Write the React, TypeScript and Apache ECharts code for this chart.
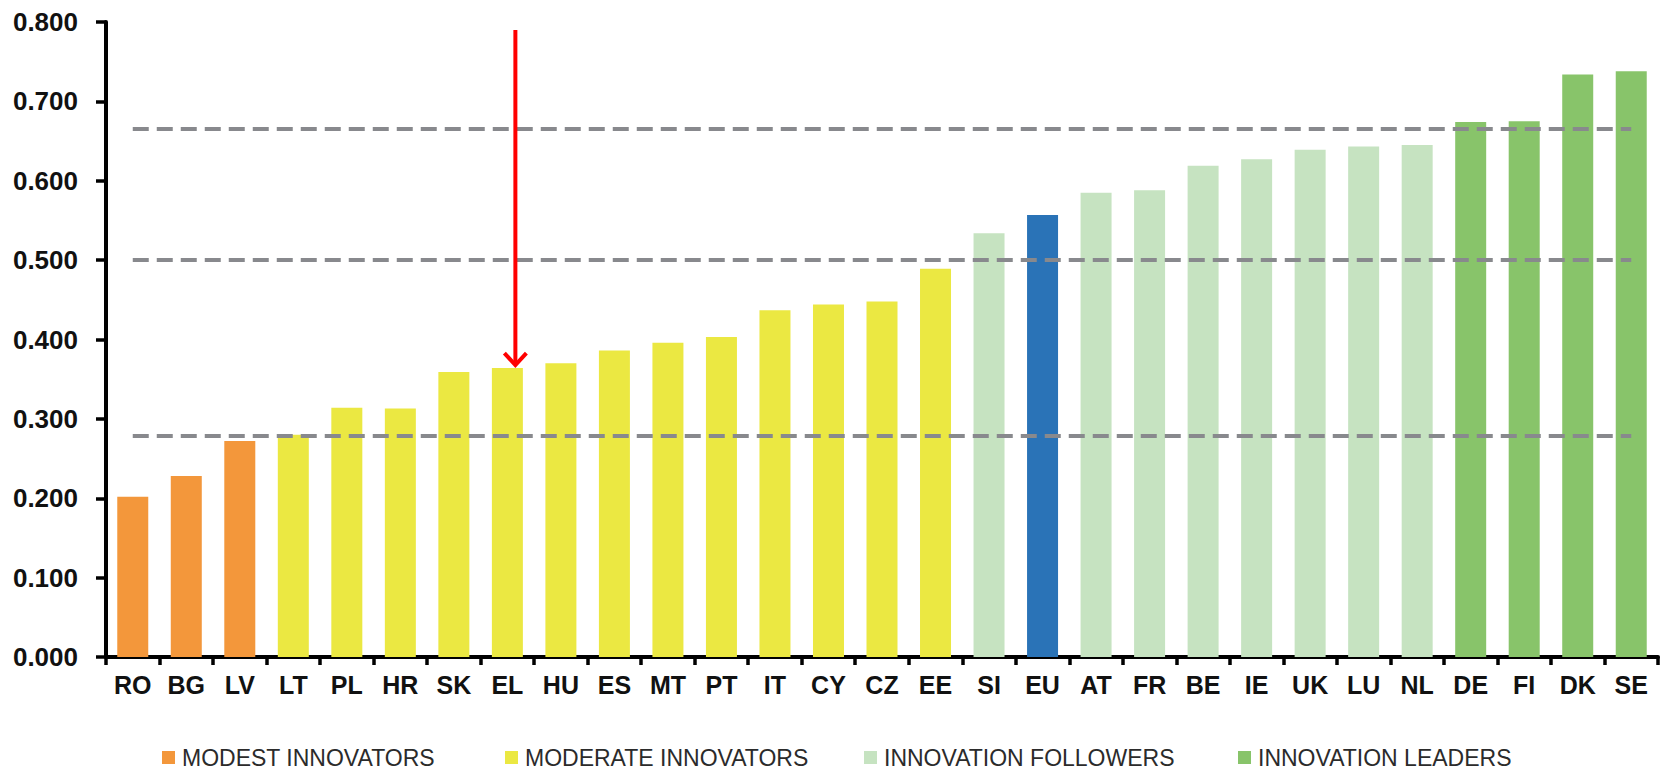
import React, { useEffect, useRef } from "react";
import * as echarts from "echarts";

const categories = ["RO","BG","LV","LT","PL","HR","SK","EL","HU","ES","MT","PT","IT","CY","CZ","EE","SI","EU","AT","FR","BE","IE","UK","LU","NL","DE","FI","DK","SE"];
const values = [0.202,0.228,0.272,0.280,0.314,0.313,0.359,0.364,0.370,0.386,0.396,0.403,0.437,0.444,0.448,0.489,0.534,0.557,0.585,0.588,0.619,0.627,0.639,0.643,0.645,0.674,0.675,0.734,0.738];
const groups = ["modest","modest","modest","moderate","moderate","moderate","moderate","moderate","moderate","moderate","moderate","moderate","moderate","moderate","moderate","moderate","followers","eu","followers","followers","followers","followers","followers","followers","followers","leaders","leaders","leaders","leaders"];
const groupKeys = ["modest","moderate","followers","eu","leaders"];
const groupNames = ["MODEST INNOVATORS","MODERATE INNOVATORS","INNOVATION FOLLOWERS","EU","INNOVATION LEADERS"];
const groupColors = ["#F3973B","#EBE842","#C6E3C1","#2A73B7","#88C46A"];
const legendNames = ["MODEST INNOVATORS","MODERATE INNOVATORS","INNOVATION FOLLOWERS","INNOVATION LEADERS"];
const thresholds = [0.666, 0.5, 0.279];
const arrowCategory = "EL";
const arrowTop = 0.79;

export default function App() {
  const ref = useRef<HTMLDivElement>(null);
  useEffect(() => {
    if (!ref.current) return;
    const chart = echarts.init(ref.current, null, { renderer: "svg" });
    const font = "'Liberation Sans', Arial, Helvetica, sans-serif";
    const barSeries: any[] = groupKeys.map((k, gi) => ({
      type: "bar",
      name: groupNames[gi],
      stack: "all",
      barWidth: 31,
      itemStyle: { color: groupColors[gi] },
      emphasis: { disabled: true },
      data: values.map((v, i) => (groups[i] === k ? v : "-")),
    }));
    barSeries[0].markLine = {
      silent: true,
      symbol: "none",
      label: { show: false },
      lineStyle: { color: "#88898D", width: 4, type: [16, 8] },
      emphasis: { disabled: true },
      data: thresholds.map((t) => [
        { coord: [categories[0], t] },
        { coord: [categories[categories.length - 1], t] },
      ]),
    };
    const arrowIdx = categories.indexOf(arrowCategory);
    const arrowSeries = {
      type: "custom",
      silent: true,
      z: 10,
      data: [[arrowIdx, arrowTop, values[arrowIdx]]],
      encode: { x: 0, y: [1, 2] },
      renderItem: (params: any, api: any) => {
        const p1 = api.coord([api.value(0), api.value(1)]);
        const p2 = api.coord([api.value(0), api.value(2)]);
        const dx = 8;
        const x = p1[0] + dx;
        const tipY = p2[1] - 1;
        return {
          type: "group",
          children: [
            { type: "line", shape: { x1: x, y1: p1[1], x2: x, y2: tipY - 2 }, style: { stroke: "#FF0000", lineWidth: 4 } },
            { type: "polyline", shape: { points: [[x - 11, tipY - 14], [x, tipY - 2], [x + 11, tipY - 14]] }, style: { stroke: "#FF0000", lineWidth: 4, fill: null, lineJoin: "miter" } },
          ],
        };
      },
    };
    const legendLefts = [157, 500, 859, 1233];
    const option: any = {
      animation: false,
      grid: { left: 106, right: 9, top: 22, bottom: 113, containLabel: false },
      legend: legendNames.map((n, i) => ({
        data: [n],
        left: legendLefts[i],
        top: 741,
        icon: "rect",
        itemWidth: 13,
        itemHeight: 13,
        selectedMode: false,
        textStyle: { fontFamily: font, fontSize: 23, color: "#2b2b2b", padding: [0, 0, 0, 2] },
      })),
      xAxis: {
        type: "category",
        data: categories,
        axisLine: { lineStyle: { color: "#000", width: 4 } },
        axisTick: { show: true, length: 8, lineStyle: { color: "#000", width: 3.5 } },
        axisLabel: { fontFamily: font, fontSize: 25, fontWeight: "bold", color: "#111", margin: 15, interval: 0 },
      },
      yAxis: {
        type: "value",
        min: 0,
        max: 0.8,
        interval: 0.1,
        axisLine: { show: true, lineStyle: { color: "#000", width: 4 } },
        axisTick: { show: true, length: 10, lineStyle: { color: "#000", width: 3.5 } },
        splitLine: { show: false },
        axisLabel: { fontFamily: font, fontSize: 26, fontWeight: "bold", color: "#111", margin: 28, formatter: (v: number) => v.toFixed(3) },
      },
      series: [...barSeries, arrowSeries],
    };
    chart.setOption(option);
    return () => chart.dispose();
  }, []);
  return <div ref={ref} style={{ position: "absolute", left: 0, top: 0, width: 1667, height: 770, background: "#fff" }} />;
}
